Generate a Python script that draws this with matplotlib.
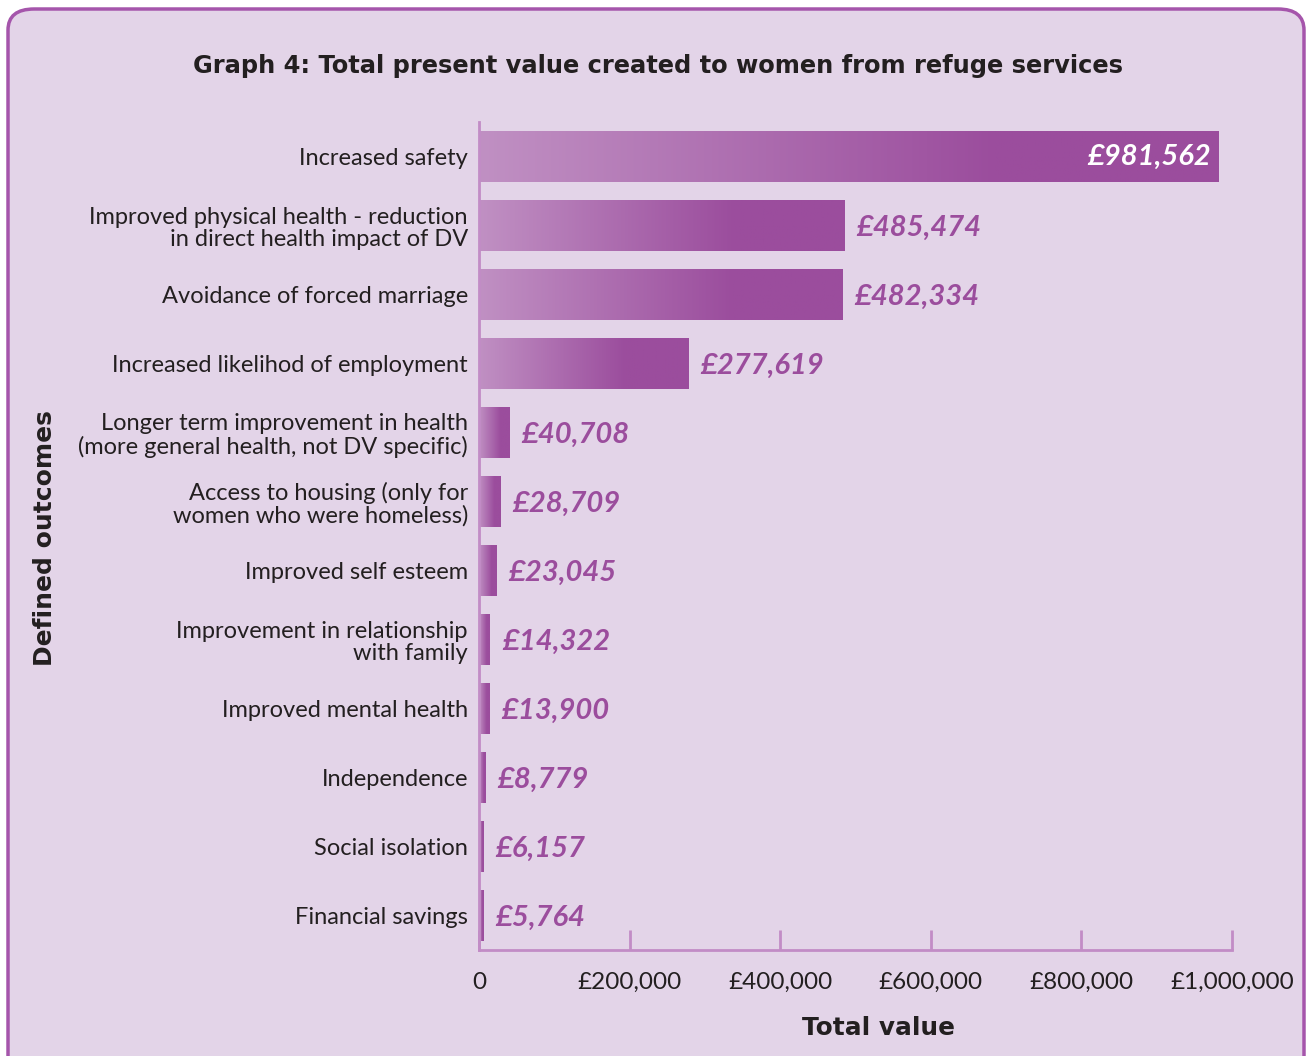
import numpy as np
import matplotlib
matplotlib.use('Agg')
import matplotlib.pyplot as plt
from matplotlib.patches import FancyBboxPatch
from matplotlib.colors import LinearSegmentedColormap
from matplotlib.ticker import FixedLocator

outcomes = [
    'Increased safety',
    'Improved physical health - reduction\nin direct health impact of DV',
    'Avoidance of forced marriage',
    'Increased likelihod of employment',
    'Longer term improvement in health\n(more general health, not DV specific)',
    'Access to housing (only for\nwomen who were homeless)',
    'Improved self esteem',
    'Improvement in relationship\nwith family',
    'Improved mental health',
    'Independence',
    'Social isolation',
    'Financial savings',
]
values = [981562, 485474, 482334, 277619, 40708, 28709, 23045, 14322, 13900, 8779, 6157, 5764]
x_ticks = [0, 200000, 400000, 600000, 800000, 1000000]
x_tick_labels = ['0', '£200,000', '£400,000', '£600,000', '£800,000', '£1,000,000']

bg = '#e3d4e8'
dark = '#9b4d9d'
light = '#c090c3'
spine_col = '#c28cc6'
text_col = '#231f20'
plt.rcParams['font.family'] = ['Lato', 'DejaVu Sans']
heavy = dict(family='DejaVu Sans', fontweight='bold', color=text_col)

fig = plt.figure(figsize=(13.07, 10.56), dpi=100)
fig.patch.set_facecolor('white')

# rounded card behind the chart, running off the bottom edge
card = FancyBboxPatch((8 / 1307, -0.05), 1296 / 1307, 1.05 - 9 / 1056,
                      boxstyle='round,pad=0,rounding_size=0.02',
                      transform=fig.transFigure, facecolor=bg,
                      edgecolor='#a555ab', linewidth=2.5, zorder=-1)
fig.patches.append(card)

ax = fig.add_axes([479 / 1307, 1 - 950 / 1056, 753 / 1307, 828 / 1056])
ax.set_facecolor('none')
ax.set_zorder(2)

# each bar fades from light on the left to full purple at ~70% of its length
grad = np.clip(np.linspace(0, 1, 256) / 0.7, 0, 1).reshape(1, -1)
cmap = LinearSegmentedColormap.from_list('bar', [light, dark])
h = 0.74
y = np.arange(len(values))
bars = ax.barh(y, values, height=h, color='none')
for b, v in zip(bars, values):
    im = ax.imshow(grad, extent=[0, v, b.get_y() + h, b.get_y()], aspect='auto',
                   cmap=cmap, vmin=0, vmax=1, zorder=2)
    im.set_clip_path(b)

ax.set_xlim(0, 1000000)
ax.set_ylim(len(values) - 0.5, -0.5)

for i, v in enumerate(values):
    txt = '£{:,}'.format(v)
    if i == 0:
        ax.text(v - 9000, i, txt, ha='right', va='center', color='white',
                fontsize=21, fontweight='bold', fontstyle='italic', zorder=3)
    else:
        ax.text(v + 16000, i + 0.03, txt, ha='left', va='center', color=dark,
                fontsize=21, fontweight='bold', fontstyle='italic', zorder=3)

ax.set_yticks(y)
ax.set_yticklabels(outcomes, fontsize=17, color=text_col, linespacing=1.1)
ax.tick_params(axis='y', length=0, pad=8)

ax.xaxis.set_major_locator(FixedLocator(x_ticks))
ax.set_xticklabels(x_tick_labels, fontsize=17.5, color=text_col)
ax.tick_params(axis='x', direction='in', length=14.5, width=2, color=spine_col, pad=16)

for s in ['top', 'right']:
    ax.spines[s].set_visible(False)
for s in ['left', 'bottom']:
    ax.spines[s].set_color(spine_col)
    ax.spines[s].set_linewidth(2)

ax.set_xlabel('Total value', fontsize=17.8, **heavy)
ax.xaxis.set_label_coords(0.53, -0.08)
fig.text(45 / 1307, 1 - 538 / 1056, 'Defined outcomes', rotation=90, ha='center', va='center',
         fontsize=18, **heavy)
fig.text(658 / 1307, 1 - 66 / 1056, 'Graph 4: Total present value created to women from refuge services',
         ha='center', va='center', fontsize=17.4, **heavy)

fig.savefig('out.png', dpi=100, facecolor=fig.get_facecolor())
